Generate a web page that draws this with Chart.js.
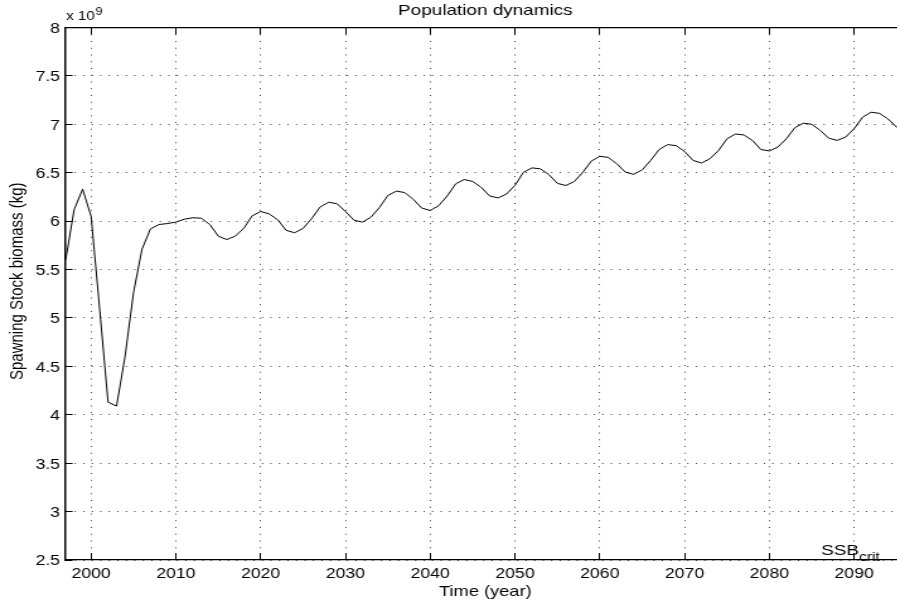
<!DOCTYPE html>
<html>
<head>
<meta charset="utf-8">
<title>Population dynamics</title>
<script src="https://cdn.jsdelivr.net/npm/chart.js@4.4.1/dist/chart.umd.min.js"></script>
<style>
  html, body { margin: 0; padding: 0; background: #fff; overflow: hidden; }
  #plot { display: block; }
</style>
</head>
<body>
<!-- the figure is drawn at 718 px and displayed horizontally widened -->
<canvas id="plot" width="718" height="605" style="width:905px;height:605px"></canvas>
<script>
// Simulation years
const years = [
  1997, 1998, 1999, 2000, 2001, 2002, 2003, 2004, 2005, 2006,
  2007, 2008, 2009, 2010, 2011, 2012, 2013, 2014, 2015, 2016,
  2017, 2018, 2019, 2020, 2021, 2022, 2023, 2024, 2025, 2026,
  2027, 2028, 2029, 2030, 2031, 2032, 2033, 2034, 2035, 2036,
  2037, 2038, 2039, 2040, 2041, 2042, 2043, 2044, 2045, 2046,
  2047, 2048, 2049, 2050, 2051, 2052, 2053, 2054, 2055, 2056,
  2057, 2058, 2059, 2060, 2061, 2062, 2063, 2064, 2065, 2066,
  2067, 2068, 2069, 2070, 2071, 2072, 2073, 2074, 2075, 2076,
  2077, 2078, 2079, 2080, 2081, 2082, 2083, 2084, 2085, 2086,
  2087, 2088, 2089, 2090, 2091, 2092, 2093, 2094, 2095, 2096
];

// Spawning stock biomass, in units of 10^9 kg
const ssb = [
  5.60, 6.12, 6.33, 6.05, 5.10, 4.13, 4.09, 4.60, 5.26, 5.71,
  5.92, 5.965, 5.975, 5.99, 6.02, 6.035, 6.03, 5.965, 5.845, 5.81,
  5.845, 5.925, 6.055, 6.10, 6.075, 6.015, 5.905, 5.88, 5.925, 6.025,
  6.145, 6.195, 6.18, 6.10, 6.01, 5.99, 6.04, 6.14, 6.265, 6.31,
  6.295, 6.225, 6.135, 6.11, 6.16, 6.26, 6.385, 6.43, 6.41, 6.35,
  6.26, 6.24, 6.28, 6.37, 6.505, 6.55, 6.54, 6.48, 6.39, 6.368,
  6.41, 6.505, 6.62, 6.67, 6.658, 6.593, 6.507, 6.483, 6.53, 6.627,
  6.74, 6.79, 6.78, 6.72, 6.627, 6.60, 6.645, 6.73, 6.85, 6.90,
  6.89, 6.834, 6.74, 6.725, 6.765, 6.85, 6.965, 7.012, 7.00, 6.937,
  6.857, 6.834, 6.868, 6.955, 7.074, 7.125, 7.113, 7.055, 6.972, 6.945
];

// Tick labels
const xTickYears = [2000, 2010, 2020, 2030, 2040, 2050, 2060, 2070, 2080, 2090];
const yTickValues = [2.5, 3, 3.5, 4, 4.5, 5, 5.5, 6, 6.5, 7, 7.5, 8];

// Texts
const chartTitle = 'Population dynamics';
const xAxisTitle = 'Time (year)';
const yAxisTitle = 'Spawning Stock biomass (kg)';
const yExponent = { prefix: 'x 10', power: '9' };
const ssbCritLabel = { main: 'SSB', sub: 'crit', year: 2086.1, level: 2.552 };

const FONT = '"Liberation Sans", Arial, Helvetica, sans-serif';
Chart.defaults.font.family = FONT;
Chart.defaults.color = '#000';

const fixTicks = values => scale => {
  scale.ticks = values.map(v => ({ value: v }));
};

const gridDots = [1, 5.75];

// Exponent marker above the y axis and the SSB_crit note near the x axis
const axisNotes = {
  id: 'axisNotes',
  afterDraw(chart) {
    const { ctx, chartArea, scales } = chart;
    ctx.save();
    ctx.fillStyle = '#000';
    ctx.textAlign = 'left';
    ctx.textBaseline = 'alphabetic';

    ctx.font = `12px ${FONT}`;
    let x = chartArea.left + 0.3;
    ctx.fillText(yExponent.prefix, x, chartArea.top - 7.5);
    x += ctx.measureText(yExponent.prefix).width + 0.6;
    ctx.font = `10px ${FONT}`;
    ctx.fillText(yExponent.power, x, chartArea.top - 13);

    const sx = scales.x.getPixelForValue(ssbCritLabel.year);
    const sy = scales.y.getPixelForValue(ssbCritLabel.level);
    ctx.font = `15px ${FONT}`;
    ctx.fillText(ssbCritLabel.main, sx, sy);
    const w = ctx.measureText(ssbCritLabel.main).width;
    ctx.font = `12.5px ${FONT}`;
    ctx.fillText(ssbCritLabel.sub, sx + w, sy + 6);
    ctx.restore();
  }
};

new Chart(document.getElementById('plot'), {
  type: 'line',
  data: {
    datasets: [{
      data: years.map((yr, i) => ({ x: yr, y: ssb[i] })),
      borderColor: '#000',
      borderWidth: 1,
      pointRadius: 0,
      tension: 0,
      fill: false
    }]
  },
  options: {
    responsive: false,
    animation: false,
    events: [],
    layout: { padding: 0 },
    plugins: {
      legend: { display: false },
      tooltip: { enabled: false },
      title: {
        display: true,
        text: chartTitle,
        fullSize: false,
        color: '#000',
        font: { size: 15, weight: 'normal', lineHeight: 1.2 },
        padding: { top: 1.8, bottom: 7.7 }
      }
    },
    scales: {
      x: {
        type: 'linear',
        position: 'bottom',
        min: 1997,
        max: 2096,
        afterBuildTicks: fixTicks(xTickYears),
        afterFit: s => { s.height = 45; },
        grid: { color: 'rgba(0,0,0,0.75)', lineWidth: 1, tickLength: -7, tickColor: '#000', tickWidth: 1 },
        border: { display: true, color: '#000', width: 1.2, dash: gridDots },
        ticks: { font: { size: 14 }, padding: 13, maxRotation: 0, autoSkip: false, callback: v => String(v) },
        title: { display: true, text: xAxisTitle, font: { size: 14.5 }, padding: { top: 0, bottom: 4.5 } }
      },
      xTop: {
        type: 'linear',
        position: 'top',
        min: 1997,
        max: 2096,
        afterBuildTicks: fixTicks(xTickYears),
        afterFit: s => { s.height = 0; },
        grid: { drawOnChartArea: false, tickLength: -7, tickColor: '#000', tickWidth: 1 },
        border: { display: true, color: '#000', width: 1.2 },
        ticks: { display: false }
      },
      y: {
        type: 'linear',
        position: 'left',
        min: 2.5,
        max: 8,
        afterBuildTicks: fixTicks(yTickValues),
        afterFit: s => { s.width = 52.1; },
        grid: { color: 'rgba(0,0,0,0.75)', lineWidth: 1, tickLength: -5.5, tickColor: '#000', tickWidth: 1 },
        border: { display: true, color: '#000', width: 1.5, dash: gridDots },
        ticks: { font: { size: 14 }, padding: 10, labelOffset: 1.5, callback: v => String(v) },
        // leading blank space lifts the label slightly above the axis centre
        title: { display: true, text: '\u00a0'.repeat(6) + yAxisTitle, font: { size: 15 }, padding: { top: 5, bottom: 0 } }
      }
    }
  },
  plugins: [axisNotes]
});
</script>
</body>
</html>
